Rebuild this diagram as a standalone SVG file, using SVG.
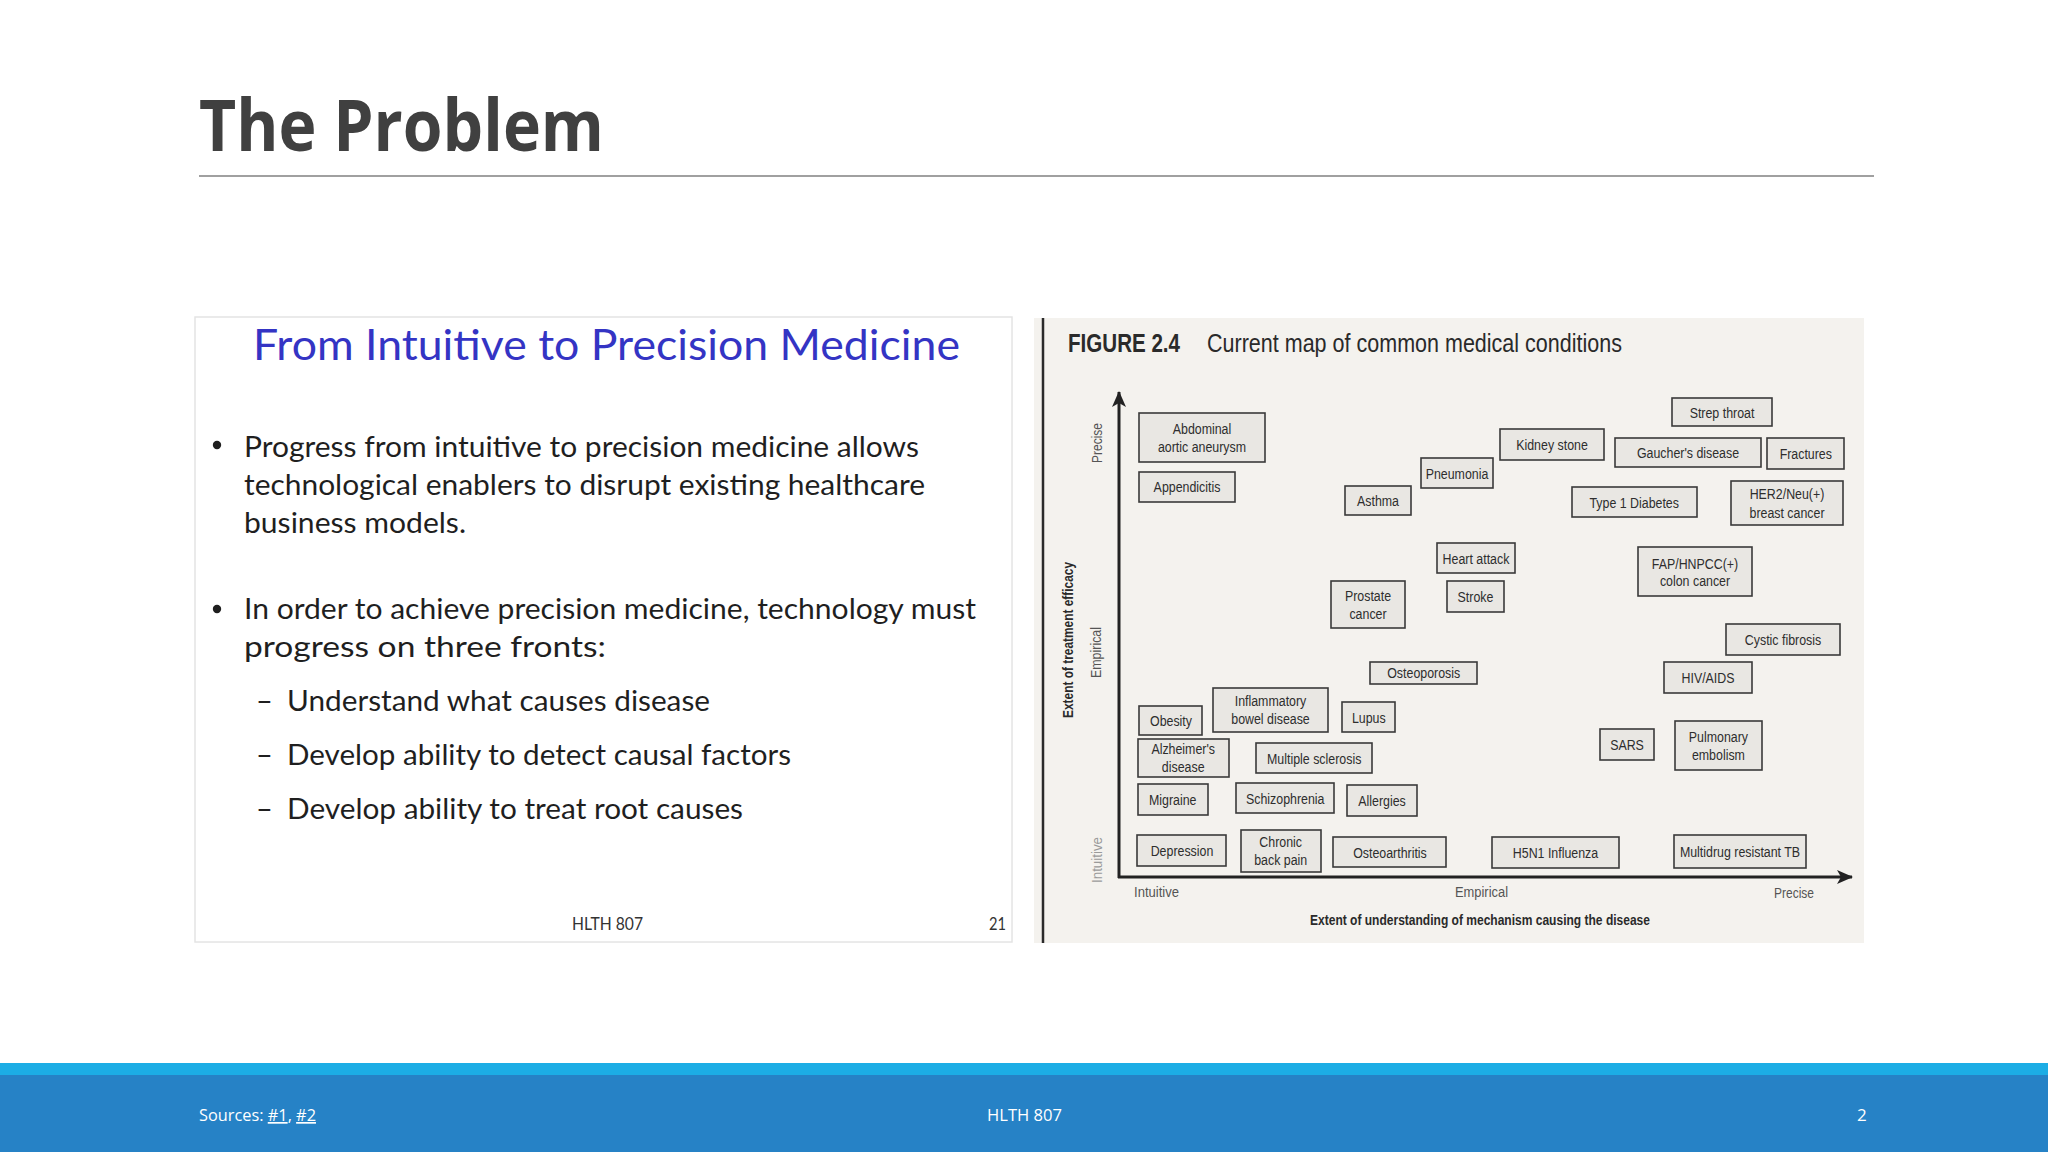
<svg xmlns="http://www.w3.org/2000/svg" width="2048" height="1152" viewBox="0 0 2048 1152">
<style>
.bx rect{fill:#e9e7e3;stroke:#3a3a3a;stroke-width:1.6}
.bx text{font-family:"Liberation Sans",Arial,sans-serif;font-size:15.5px;fill:#2e2e2e;text-anchor:middle}
.ax{font-family:"Liberation Sans",Arial,sans-serif;font-size:15.5px;fill:#555}
.body{font-family:Lato,"Open Sans",sans-serif;font-size:29px;fill:#1f1f1f}
.foot{font-family:"Open Sans","Liberation Sans",sans-serif;font-size:17px;fill:#fff}
</style>
<defs>
<marker id="arr" viewBox="0 0 16 14" refX="15" refY="7" markerWidth="16" markerHeight="14" markerUnits="userSpaceOnUse" orient="auto">
<path d="M0,0 L16,7 L0,14 L4,7 Z" fill="#222"/>
</marker>
</defs>
<rect width="2048" height="1152" fill="#fff"/>
<g id="header">
<text x="199" y="151" font-family="'Open Sans','Liberation Sans',sans-serif" font-weight="bold" font-size="72" fill="#404040" textLength="405" lengthAdjust="spacingAndGlyphs">The Problem</text>
<line x1="199" y1="176" x2="1874" y2="176" stroke="#808080" stroke-width="1.5"/>
</g>
<g id="left-slide">
<rect x="195" y="317" width="817" height="625" fill="#fff" stroke="#e4e4e4" stroke-width="1.5"/>
<text x="253" y="360" font-family="Lato,'Open Sans',sans-serif" font-size="42" fill="#3434c4" textLength="707" lengthAdjust="spacingAndGlyphs">From Intuitive to Precision Medicine</text>
<circle cx="217" cy="445" r="4.2" fill="#1f1f1f"/>
<circle cx="217" cy="609" r="4.2" fill="#1f1f1f"/>
<text class="body" x="244" y="457" textLength="675" lengthAdjust="spacingAndGlyphs">Progress from intuitive to precision medicine allows</text>
<text class="body" x="244" y="495" textLength="681" lengthAdjust="spacingAndGlyphs">technological enablers to disrupt existing healthcare</text>
<text class="body" x="244" y="533" textLength="222" lengthAdjust="spacingAndGlyphs">business models.</text>
<text class="body" x="244" y="619" textLength="732" lengthAdjust="spacingAndGlyphs">In order to achieve precision medicine, technology must</text>
<text class="body" x="244" y="657" textLength="362" lengthAdjust="spacingAndGlyphs">progress on three fronts:</text>
<text class="body" x="256" y="711">–</text>
<text class="body" x="256" y="765">–</text>
<text class="body" x="256" y="819">–</text>
<text class="body" x="287" y="711" textLength="423" lengthAdjust="spacingAndGlyphs">Understand what causes disease</text>
<text class="body" x="287" y="765" textLength="504" lengthAdjust="spacingAndGlyphs">Develop ability to detect causal factors</text>
<text class="body" x="287" y="819" textLength="456" lengthAdjust="spacingAndGlyphs">Develop ability to treat root causes</text>
<text x="572" y="930" font-family="Lato,'Open Sans',sans-serif" font-size="18" fill="#333" textLength="71" lengthAdjust="spacingAndGlyphs">HLTH 807</text>
<text x="989" y="930" font-family="Lato,'Open Sans',sans-serif" font-size="18" fill="#333" textLength="17" lengthAdjust="spacingAndGlyphs">21</text>
</g>
<g id="chart">
<rect x="1034" y="318" width="830" height="625" fill="#f4f2ee"/>
<line x1="1043" y1="318" x2="1043" y2="943" stroke="#2a2a2a" stroke-width="2.5"/>
<text x="1068" y="352" font-family="'Liberation Sans',Arial,sans-serif" font-weight="bold" font-size="26" fill="#2a2a2a" textLength="112" lengthAdjust="spacingAndGlyphs">FIGURE 2.4</text>
<text x="1207" y="352" font-family="'Liberation Sans',Arial,sans-serif" font-size="26" fill="#2a2a2a" textLength="415" lengthAdjust="spacingAndGlyphs">Current map of common medical conditions</text>
<text class="ax" transform="translate(1102,463) rotate(-90)" textLength="40" lengthAdjust="spacingAndGlyphs">Precise</text>
<text class="ax" transform="translate(1101,678) rotate(-90)" textLength="51" lengthAdjust="spacingAndGlyphs">Empirical</text>
<text class="ax" transform="translate(1102,883) rotate(-90)" style="fill:#9a9a9a" textLength="46" lengthAdjust="spacingAndGlyphs">Intuitive</text>
<text class="ax" transform="translate(1073,718) rotate(-90)" style="fill:#2a2a2a;font-weight:bold" textLength="156" lengthAdjust="spacingAndGlyphs">Extent of treatment efficacy</text>
<text class="ax" x="1134" y="897" textLength="45" lengthAdjust="spacingAndGlyphs">Intuitive</text>
<text class="ax" x="1455" y="897" textLength="53" lengthAdjust="spacingAndGlyphs">Empirical</text>
<text class="ax" x="1774" y="898" textLength="40" lengthAdjust="spacingAndGlyphs">Precise</text>
<text class="ax" x="1310" y="925" style="fill:#2a2a2a;font-weight:bold" textLength="340" lengthAdjust="spacingAndGlyphs">Extent of understanding of mechanism causing the disease</text>
</g>
<g id="connectors">
<line x1="1119" y1="878" x2="1119" y2="392" stroke="#222" stroke-width="3" marker-end="url(#arr)"/>
<line x1="1118" y1="877" x2="1852" y2="877" stroke="#222" stroke-width="3" marker-end="url(#arr)"/>
</g>
<g id="n1" class="bx"><rect x="1139" y="413" width="126" height="49"/><text transform="translate(1202,434) scale(0.8,1)"><tspan x="0">Abdominal</tspan><tspan x="0" dy="18.4">aortic aneurysm</tspan></text></g>
<g id="n2" class="bx"><rect x="1139" y="472" width="96" height="30"/><text transform="translate(1187,492.2) scale(0.8,1)">Appendicitis</text></g>
<g id="n3" class="bx"><rect x="1345" y="486" width="66" height="29"/><text transform="translate(1378,506) scale(0.8,1)">Asthma</text></g>
<g id="n4" class="bx"><rect x="1421" y="458" width="72" height="30"/><text transform="translate(1457,478.8) scale(0.8,1)">Pneumonia</text></g>
<g id="n5" class="bx"><rect x="1500" y="429" width="104" height="31"/><text transform="translate(1552,450.2) scale(0.8,1)">Kidney stone</text></g>
<g id="n6" class="bx"><rect x="1437" y="543" width="78" height="30"/><text transform="translate(1476,563.8) scale(0.8,1)">Heart attack</text></g>
<g id="n7" class="bx"><rect x="1447" y="581" width="57" height="31"/><text transform="translate(1475.5,601.8) scale(0.8,1)">Stroke</text></g>
<g id="n8" class="bx"><rect x="1331" y="581" width="74" height="47"/><text transform="translate(1368,600.5) scale(0.8,1)"><tspan x="0">Prostate</tspan><tspan x="0" dy="19">cancer</tspan></text></g>
<g id="n9" class="bx"><rect x="1672" y="398" width="100" height="28"/><text transform="translate(1722,417.5) scale(0.8,1)">Strep throat</text></g>
<g id="n10" class="bx"><rect x="1615" y="438" width="146" height="29"/><text transform="translate(1688,458.2) scale(0.8,1)">Gaucher's disease</text></g>
<g id="n11" class="bx"><rect x="1767" y="438" width="77" height="31"/><text transform="translate(1805.8,458.8) scale(0.8,1)">Fractures</text></g>
<g id="n12" class="bx"><rect x="1572" y="487" width="125" height="30"/><text transform="translate(1634.2,507.5) scale(0.8,1)">Type 1 Diabetes</text></g>
<g id="n13" class="bx"><rect x="1731" y="481" width="112" height="44"/><text transform="translate(1787,498.8) scale(0.8,1)"><tspan x="0">HER2/Neu(+)</tspan><tspan x="0" dy="19">breast cancer</tspan></text></g>
<g id="n14" class="bx"><rect x="1638" y="547" width="114" height="49"/><text transform="translate(1695,568.8) scale(0.8,1)"><tspan x="0">FAP/HNPCC(+)</tspan><tspan x="0" dy="17.7">colon cancer</tspan></text></g>
<g id="n15" class="bx"><rect x="1726" y="624" width="114" height="31"/><text transform="translate(1783,644.8) scale(0.8,1)">Cystic fibrosis</text></g>
<g id="n16" class="bx"><rect x="1664" y="662" width="88" height="31"/><text transform="translate(1708,683) scale(0.8,1)">HIV/AIDS</text></g>
<g id="n17" class="bx"><rect x="1600" y="729" width="54" height="31"/><text transform="translate(1627,750.2) scale(0.8,1)">SARS</text></g>
<g id="n18" class="bx"><rect x="1675" y="721" width="87" height="49"/><text transform="translate(1718.4,742.2) scale(0.8,1)"><tspan x="0">Pulmonary</tspan><tspan x="0" dy="18.3">embolism</tspan></text></g>
<g id="n19" class="bx"><rect x="1492" y="837" width="127" height="31"/><text transform="translate(1555.5,858.2) scale(0.8,1)">H5N1 Influenza</text></g>
<g id="n20" class="bx"><rect x="1674" y="835" width="132" height="33"/><text transform="translate(1740,857.2) scale(0.8,1)">Multidrug resistant TB</text></g>
<g id="n21" class="bx"><rect x="1370" y="662" width="107" height="22"/><text transform="translate(1423.7,678.4) scale(0.8,1)">Osteoporosis</text></g>
<g id="n22" class="bx"><rect x="1139" y="706" width="63" height="29"/><text transform="translate(1171,726) scale(0.8,1)">Obesity</text></g>
<g id="n23" class="bx"><rect x="1213" y="688" width="115" height="44"/><text transform="translate(1270.5,706.2) scale(0.8,1)"><tspan x="0">Inflammatory</tspan><tspan x="0" dy="18.3">bowel disease</tspan></text></g>
<g id="n24" class="bx"><rect x="1342" y="702" width="53" height="30"/><text transform="translate(1368.8,722.5) scale(0.8,1)">Lupus</text></g>
<g id="n25" class="bx"><rect x="1138" y="739" width="91" height="38"/><text transform="translate(1183.2,753.8) scale(0.8,1)"><tspan x="0">Alzheimer's</tspan><tspan x="0" dy="18.4">disease</tspan></text></g>
<g id="n26" class="bx"><rect x="1256" y="743" width="116" height="30"/><text transform="translate(1314.2,764) scale(0.8,1)">Multiple sclerosis</text></g>
<g id="n27" class="bx"><rect x="1138" y="784" width="70" height="31"/><text transform="translate(1172.7,805.2) scale(0.8,1)">Migraine</text></g>
<g id="n28" class="bx"><rect x="1236" y="783" width="98" height="30"/><text transform="translate(1285.2,803.8) scale(0.8,1)">Schizophrenia</text></g>
<g id="n29" class="bx"><rect x="1347" y="785" width="70" height="31"/><text transform="translate(1382,805.8) scale(0.8,1)">Allergies</text></g>
<g id="n30" class="bx"><rect x="1137" y="835" width="89" height="31"/><text transform="translate(1182,855.8) scale(0.8,1)">Depression</text></g>
<g id="n31" class="bx"><rect x="1241" y="830" width="80" height="42"/><text transform="translate(1280.7,846.5) scale(0.8,1)"><tspan x="0">Chronic</tspan><tspan x="0" dy="19">back pain</tspan></text></g>
<g id="n32" class="bx"><rect x="1333" y="837" width="113" height="30"/><text transform="translate(1390,857.5) scale(0.8,1)">Osteoarthritis</text></g>
<g id="footer">
<rect x="0" y="1063" width="2048" height="12" fill="#1cade5"/>
<rect x="0" y="1075" width="2048" height="77" fill="#2682c6"/>
<text class="foot" x="199" y="1121" textLength="117" lengthAdjust="spacingAndGlyphs">Sources: <tspan text-decoration="underline">#1</tspan>, <tspan text-decoration="underline">#2</tspan></text>
<text class="foot" x="987" y="1121" textLength="75" lengthAdjust="spacingAndGlyphs">HLTH 807</text>
<text class="foot" x="1857" y="1121">2</text>
</g>
</svg>
